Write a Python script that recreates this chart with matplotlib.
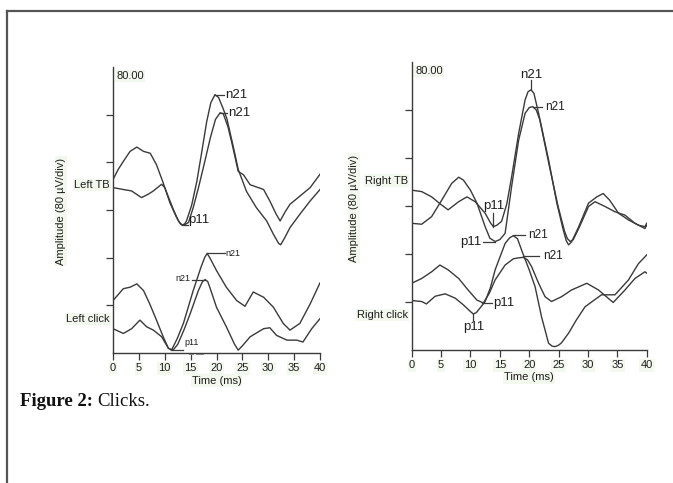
#!/usr/bin/env python
import matplotlib
matplotlib.use('Agg')
import matplotlib.pyplot as plt
from matplotlib.lines import Line2D

plt.rcParams['font.family'] = ['Liberation Sans', 'DejaVu Sans']

# ---- data, amplitudes in divisions (80 uV/div), time in ms ----
left_tb_a_t = [0, 1.0, 2.0, 3.3, 4.6, 5.9, 7.2, 8.4, 9.7, 11.0, 12.3, 13.0, 13.3, 13.8, 14.2, 15.2, 16.2,
               17.2, 18.1, 18.9, 19.7, 20.4, 21.2, 22.0, 23.3, 24.2, 25.8, 27.7, 29.7, 31.0, 32.0,
               32.4, 33.2, 34.2, 36.1, 38.1, 40]
left_tb_a_y = [3.64, 3.85, 4.02, 4.23, 4.32, 4.23, 4.19, 3.95, 3.57, 3.15, 2.84, 2.71, 2.69, 2.70, 2.77, 3.1, 3.6,
               4.25, 4.85, 5.25, 5.42, 5.36, 5.15, 4.92, 4.3, 3.85, 3.39, 3.05, 2.77, 2.49, 2.30,
               2.27, 2.42, 2.63, 2.91, 3.19, 3.43]
left_tb_b_t = [0, 2.0, 3.6, 5.5, 6.8, 7.8, 9.4, 10.0, 11.7, 12.7, 13.3, 14.0, 14.6, 15.5, 16.5, 17.7,
               18.8, 19.8, 20.7, 21.3, 22.2, 22.9, 24.2, 25.2, 26.5, 29.1, 30.3, 31.5, 32.3, 33.2,
               34.2, 36.1, 38.1, 40]
left_tb_b_y = [3.47, 3.43, 3.40, 3.26, 3.33, 3.40, 3.54, 3.47, 3.0, 2.76, 2.69, 2.70, 2.74, 3.05, 3.46, 4.0,
               4.51, 4.90, 5.04, 5.02, 4.75, 4.44, 3.81, 3.74, 3.53, 3.43, 3.19, 2.92, 2.77, 2.95,
               3.12, 3.29, 3.47, 3.75]

left_click_a_t = [0, 2.0, 3.3, 4.6, 5.9, 7.1, 8.4, 9.7, 10.7, 11.3, 12.4, 13.6, 15.5, 17.0, 17.7, 18.2,
                  18.8, 20.0, 21.9, 23.9, 25.5, 27.1, 29.1, 31.0, 32.9, 34.2, 36.1, 38.1, 40]
left_click_a_y = [1.10, 1.35, 1.38, 1.45, 1.31, 1.03, 0.69, 0.34, 0.10, 0.06, 0.30, 0.62, 1.31, 1.80, 2.0, 2.09,
                  1.98, 1.73, 1.38, 1.10, 0.98, 1.28, 1.17, 0.96, 0.62, 0.48, 0.62, 1.03, 1.47]
left_click_b_t = [0, 2.0, 3.6, 5.2, 6.5, 7.8, 9.4, 10.7, 11.6, 12.5, 13.7, 14.9, 16.5, 17.3, 17.8, 18.3,
                  18.7, 20.0, 21.9, 23.5, 24.2, 25.0, 26.5, 29.1, 30.3, 31.6, 33.6, 35.5, 36.7, 38.4, 40]
left_click_b_y = [0.51, 0.41, 0.51, 0.69, 0.55, 0.48, 0.34, 0.10, 0.06, 0.18, 0.48, 0.82, 1.31, 1.50, 1.54, 1.50,
                  1.38, 0.96, 0.55, 0.18, 0.06, 0.15, 0.34, 0.51, 0.53, 0.37, 0.27, 0.27, 0.23, 0.51, 0.72]

right_tb_a_t = [0, 1.7, 3.4, 5.1, 6.2, 8.0, 9.4, 10.8, 12.5, 13.4, 13.9, 14.5, 15.3, 16.2, 17.0, 18.2,
                19.3, 19.8, 20.3, 20.8, 21.6, 23.3, 24.7, 25.8, 26.3, 26.7, 27.2, 28.4, 30.1, 31.5,
                32.6, 33.7, 35.2, 36.9, 38.6, 39.7, 40]
right_tb_a_y = [3.33, 3.30, 3.19, 3.02, 2.92, 3.09, 3.19, 3.09, 2.85, 2.65, 2.57, 2.60, 2.68, 3.05, 3.6, 4.51,
                5.21, 5.38, 5.42, 5.35, 4.93, 3.96, 3.06, 2.5, 2.28, 2.19, 2.25, 2.56, 3.06, 3.19,
                3.26, 3.12, 2.85, 2.71, 2.6, 2.57, 2.64]
right_tb_b_t = [0, 1.7, 3.4, 5.1, 6.8, 8.0, 8.8, 10.0, 11.1, 12.5, 13.3, 14.2, 15.0, 15.9, 17.0, 18.2,
                19.3, 20.0, 20.6, 21.2, 21.8, 23.4, 24.9, 26.0, 26.5, 27.0, 27.5, 28.5, 30.1, 31.2,
                32.9, 34.6, 36.3, 38.0, 39.7, 40]
right_tb_b_y = [2.64, 2.62, 2.78, 3.12, 3.47, 3.60, 3.54, 3.33, 3.06, 2.57, 2.33, 2.26, 2.30, 2.43, 3.40, 4.37,
                4.93, 5.05, 5.07, 5.0, 4.80, 3.85, 3.0, 2.48, 2.32, 2.26, 2.30, 2.55, 2.99, 3.09,
                2.99, 2.88, 2.81, 2.64, 2.53, 2.6]

right_click_a_t = [0, 1.7, 3.4, 4.8, 6.2, 8.0, 9.6, 11.1, 12.2, 13.2, 14.2, 15.9, 17.3, 18.2, 19.0, 19.7,
                   20.4, 21.6, 22.7, 23.8, 25.5, 27.2, 29.8, 31.8, 34.3, 36.3, 38.0, 39.7, 40]
right_click_a_y = [1.39, 1.49, 1.63, 1.77, 1.67, 1.49, 1.25, 1.04, 0.98, 1.18, 1.46, 1.77, 1.90, 1.92, 1.93, 1.88,
                   1.74, 1.39, 1.11, 1.01, 1.11, 1.25, 1.39, 1.25, 0.99, 1.25, 1.49, 1.63, 1.60]
right_click_b_t = [0, 1.7, 2.5, 4.0, 5.7, 7.4, 8.8, 10.0, 10.5, 11.0, 11.6, 12.5, 13.4, 14.2, 15.9, 16.7,
                   17.3, 18.0, 18.8, 20.0, 21.0, 22.1, 23.3, 23.9, 24.4, 25.0, 25.5, 26.7, 28.0, 29.5,
                   32.3, 34.6, 36.9, 38.6, 40]
right_click_b_y = [1.03, 1.01, 0.96, 1.12, 1.17, 1.08, 0.94, 0.80, 0.75, 0.78, 0.87, 1.01, 1.30, 1.67, 2.22, 2.34,
                   2.38, 2.32, 2.05, 1.67, 1.32, 0.69, 0.14, 0.08, 0.07, 0.10, 0.15, 0.35, 0.62, 0.90,
                   1.15, 1.15, 1.46, 1.80, 1.98]

time_ticks = [0, 5, 10, 15, 20, 25, 30, 35, 40]
div_ticks = [1, 2, 3, 4, 5]

ink = '#3a3a3a'
txt = '#1e1e1e'
hl = dict(boxstyle='square,pad=0.1', facecolor='#f3f8ee', edgecolor='none')
fs = 8


def setup(ax):
    ax.set_xlim(0, 40)
    ax.set_ylim(0, 6)
    ax.spines['top'].set_visible(False)
    ax.spines['right'].set_visible(False)
    for s in ('left', 'bottom'):
        ax.spines[s].set_color(ink)
        ax.spines[s].set_linewidth(1.0)
    ax.set_xticks(time_ticks)
    ax.set_xticklabels([str(t) for t in time_ticks], color=txt, fontsize=fs)
    for lab in ax.get_xticklabels():
        lab.set_bbox(hl)
    ax.set_yticks(div_ticks)
    ax.set_yticklabels([])
    ax.tick_params(direction='out', length=5, width=0.9, color=ink, pad=2.5)
    ax.set_xlabel('Time (ms)', fontsize=fs, color=txt, labelpad=1.5, bbox=hl)
    ax.text(0.015, 0.985, '80.00', transform=ax.transAxes, fontsize=fs, color=txt,
            ha='left', va='top', bbox=hl)
    ax.patch.set_alpha(0)


def hmark(ax, x0, x1, y, label, size, tx=None, ty=None, ha='left'):
    ax.plot([x0, x1], [y, y], color=ink, lw=0.9)
    ax.text(tx if tx is not None else x1 + 0.2, ty if ty is not None else y, label,
            fontsize=size, color=txt, ha=ha, va='center')


def vmark(ax, x, y0, y1, label, size, ty, va):
    ax.plot([x, x], [y0, y1], color=ink, lw=0.9)
    ax.text(x, ty, label, fontsize=size, color=txt, ha='center', va=va)


fig = plt.figure(figsize=(6.73, 4.83), dpi=100)

# frame of the figure box (top and left edges only)
fig.add_artist(Line2D([7 / 673, 1], [1 - 11 / 483] * 2, color='#555555', lw=1.6,
                      transform=fig.transFigure))
fig.add_artist(Line2D([7 / 673] * 2, [0, 1 - 11 / 483], color='#555555', lw=1.6,
                      transform=fig.transFigure))

axL = fig.add_axes([113 / 673, 1 - 353 / 483, 207 / 673, 286 / 483])
axR = fig.add_axes([411.7 / 673, 1 - 350 / 483, 235 / 673, 288 / 483])
setup(axL)
setup(axR)

for t, y in ((left_tb_a_t, left_tb_a_y), (left_tb_b_t, left_tb_b_y),
             (left_click_a_t, left_click_a_y), (left_click_b_t, left_click_b_y)):
    axL.plot(t, y, color=ink, lw=1.0)
for t, y in ((right_tb_a_t, right_tb_a_y), (right_tb_b_t, right_tb_b_y),
             (right_click_a_t, right_click_a_y), (right_click_b_t, right_click_b_y)):
    axR.plot(t, y, color=ink, lw=1.0)

# left panel markers
hmark(axL, 19.7, 21.4, 5.42, 'n21', 9.5)
hmark(axL, 20.7, 22.0, 5.04, 'n21', 9.5)
hmark(axL, 13.3, 14.4, 2.69, 'p11', 9.5, ty=2.78)
hmark(axL, 18.2, 21.6, 2.09, 'n21', 6.5)
axL.plot([15.2, 17.8], [1.54, 1.54], color=ink, lw=0.9)
axL.text(14.9, 1.56, 'n21', fontsize=6.5, color=txt, ha='right', va='center')
hmark(axL, 11.3, 13.6, 0.06, 'p11', 6.5, ty=0.22)
axL.plot([14.6, 15.4], [-0.02, -0.02], color='#999999', lw=0.8, clip_on=False)
axL.plot([16.0, 17.4], [-0.02, -0.02], color='#999999', lw=0.8, clip_on=False)

# right panel markers
vmark(axR, 20.3, 5.42, 5.62, 'n21', 9.5, 5.6, 'bottom')
hmark(axR, 20.6, 22.2, 5.07, 'n21', 8.5, tx=22.7)
vmark(axR, 13.9, 2.57, 2.85, 'p11', 9.5, 2.87, 'bottom')
hmark(axR, 12.2, 14.2, 2.26, 'p11', 9.5, tx=11.9, ha='right')
hmark(axR, 17.3, 19.3, 2.40, 'n21', 8.5, tx=19.8)
hmark(axR, 19.0, 21.6, 1.95, 'n21', 8.5, tx=22.3)
hmark(axR, 12.0, 13.6, 0.98, 'p11', 9.5, tx=13.9)
vmark(axR, 10.5, 0.75, 0.62, 'p11', 9.5, 0.6, 'top')

# trace names
axL.text(-0.6, 3.52, 'Left TB', fontsize=fs, color=txt, ha='right', va='center', bbox=hl)
axL.text(-0.6, 0.71, 'Left click', fontsize=fs, color=txt, ha='right', va='center', bbox=hl)
axR.text(-0.6, 3.53, 'Right TB', fontsize=fs, color=txt, ha='right', va='center', bbox=hl)
axR.text(-0.6, 0.73, 'Right click', fontsize=fs, color=txt, ha='right', va='center', bbox=hl)

fig.text(61 / 673, 1 - 211 / 483, 'Amplitude (80 µV/div)', rotation=90, fontsize=fs,
         color=txt, ha='center', va='center', bbox=hl)
fig.text(354 / 673, 1 - 208 / 483, 'Amplitude (80 µV/div)', rotation=90, fontsize=fs,
         color=txt, ha='center', va='center', bbox=hl)

serif = ['Liberation Serif', 'DejaVu Serif']
cap = fig.text(20 / 673, 1 - 402 / 483, 'Figure 2:', fontsize=13.5, fontweight='bold',
               family=serif, color='#111111', ha='left', va='center')
r = fig.canvas.get_renderer()
bb = cap.get_window_extent(renderer=r)
fig.text((bb.x1 + 4) / (6.73 * 100), 1 - 402 / 483, 'Clicks.', fontsize=13.5,
         family=serif, color='#111111', ha='left', va='center')

fig.savefig('out.png', dpi=100)
